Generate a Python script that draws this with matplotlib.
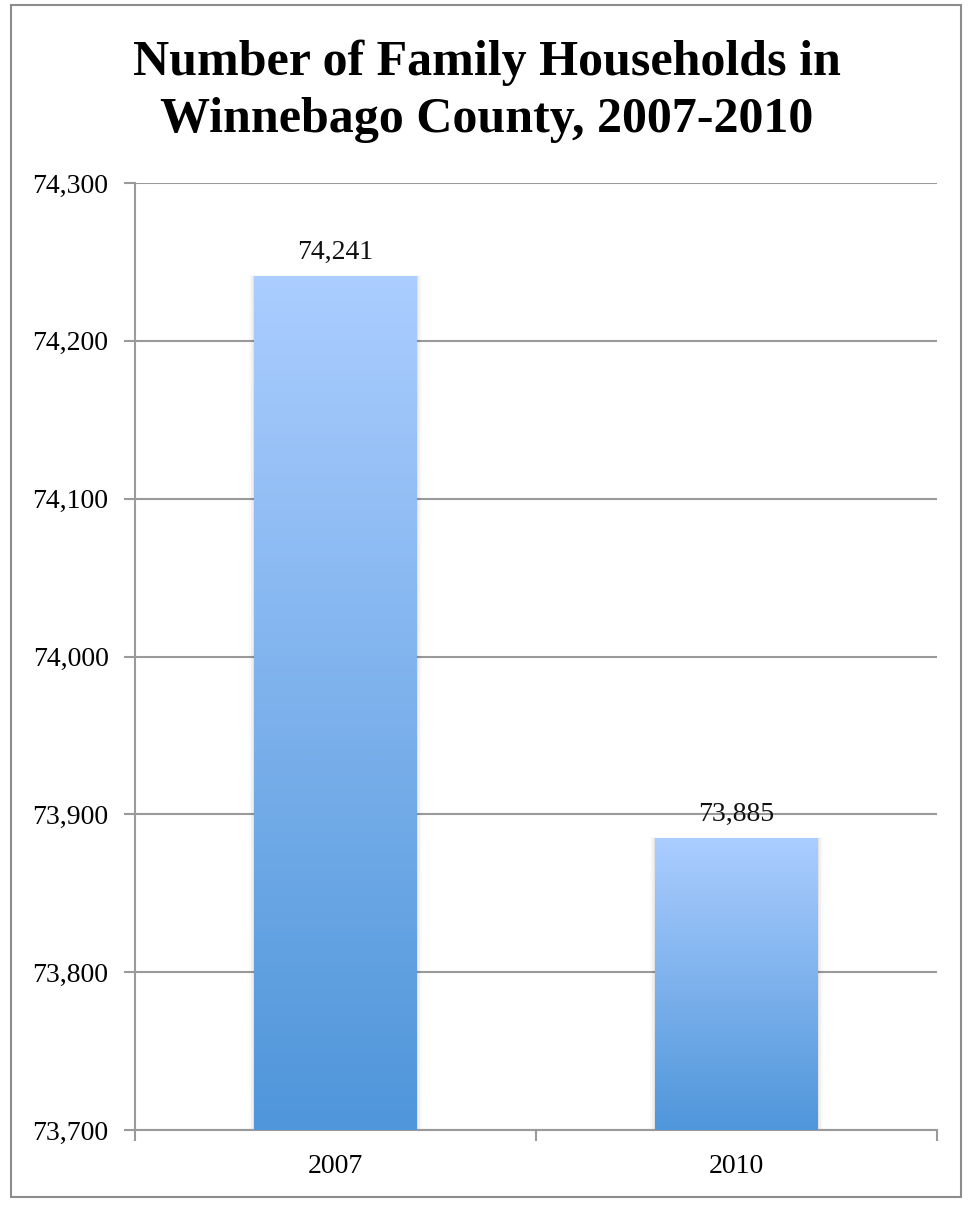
import numpy as np
import matplotlib.pyplot as plt
from matplotlib.colors import LinearSegmentedColormap
from matplotlib.patches import Rectangle
from matplotlib.ticker import FuncFormatter, FixedLocator

years = ['2007', '2010']
households = [74241, 73885]
y_ticks = [73700, 73800, 73900, 74000, 74100, 74200, 74300]
title_lines = ['Number of Family Households in', 'Winnebago County, 2007-2010']

plt.rcParams['font.family'] = ['Liberation Serif', 'DejaVu Serif']

W, H = 973, 1205
fig = plt.figure(figsize=(W / 100, H / 100), dpi=100)
ax = fig.add_axes([135 / W, 1 - 1130 / H, 802 / W, (1130 - 183) / H])

# outer frame
fig.patches.append(Rectangle((11 / W, 1 - 1197 / H), 950 / W, 1192 / H,
                             transform=fig.transFigure, fill=False,
                             edgecolor='#8c8c8c', linewidth=1.5))

ymin, ymax = y_ticks[0], y_ticks[-1]

cmap = LinearSegmentedColormap.from_list('bar', ['#4f96da', '#abcdff'])
grad = np.linspace(0, 1, 256).reshape(-1, 1)
width = 0.405

for i, v in enumerate(households):
    x0, x1 = i - width / 2, i + width / 2
    # soft shadow
    for k, a in enumerate([0.06, 0.04, 0.02]):
        off = 0.004 * (k + 1)
        ax.add_patch(Rectangle((x0 - off, ymin), width + 2 * off, v - ymin + off * 40,
                               facecolor='black', alpha=a, edgecolor='none', zorder=2))
    ax.imshow(grad, cmap=cmap, origin='lower', aspect='auto',
              extent=[x0, x1, ymin, v], zorder=3, interpolation='bilinear')
    ax.text(i, v + 11, f'{v:,}', ha='center', va='baseline', fontsize=20,
            color='#111111', zorder=4)

ax.set_xlim(-0.5, len(years) - 0.5)
ax.set_ylim(ymin, ymax)

ax.yaxis.set_major_locator(FixedLocator(y_ticks))
ax.yaxis.set_major_formatter(FuncFormatter(lambda v, p: f'{int(v):,}'))
ax.grid(axis='y', color='#9a9a9a', linewidth=1.5, zorder=1)
ax.set_axisbelow(True)

ax.set_xticks(range(len(years)))
ax.set_xticklabels(years)
ax.set_xticks([-0.5, 0.5, 1.5], minor=True)
ax.tick_params(axis='x', which='major', length=0, pad=17, labelsize=20)
ax.tick_params(axis='x', which='minor', length=8, width=1.5, color='#9a9a9a', direction='out')
ax.tick_params(axis='y', length=8, width=1.5, color='#9a9a9a', direction='out', pad=11, labelsize=20)

for s in ['top', 'right']:
    ax.spines[s].set_visible(False)
for s in ['left', 'bottom']:
    ax.spines[s].set_color('#9a9a9a')
    ax.spines[s].set_linewidth(1.5)

for line, base in zip(title_lines, [75, 132]):
    fig.text(0.5, 1 - base / H, line, ha='center', va='baseline',
             fontsize=36, fontweight='bold')

fig.savefig('out.png', dpi=100)
